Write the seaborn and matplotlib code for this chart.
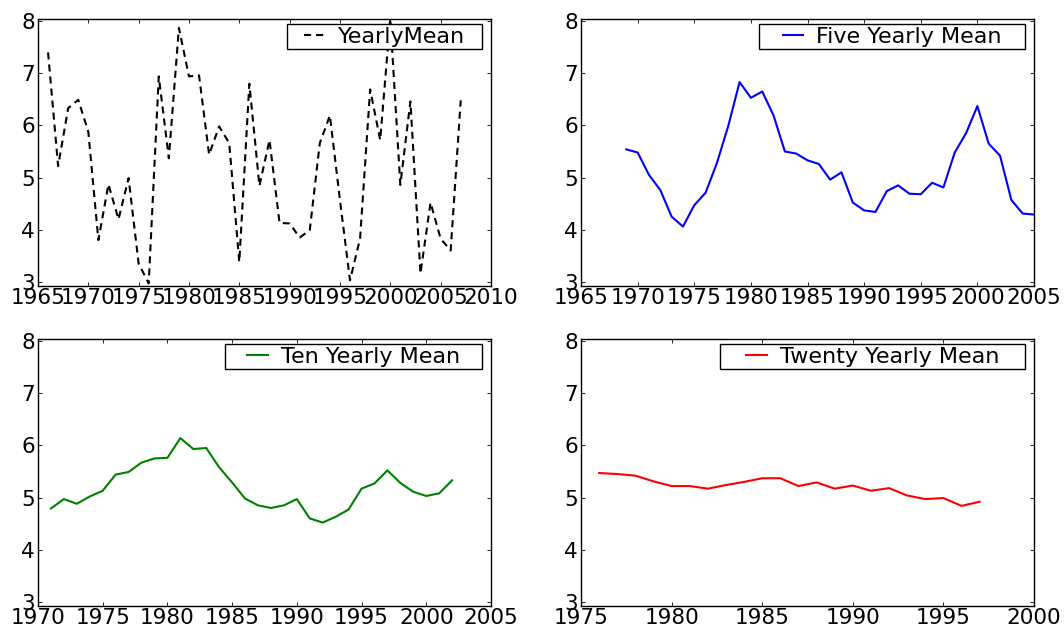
import matplotlib
matplotlib.use("Agg")
import matplotlib.pyplot as plt
from matplotlib.path import Path
from matplotlib.transforms import offset_copy
import pandas as pd
import seaborn as sns

# Yearly values and running means
yearly_years = list(range(1966, 2008))
yearly_mean = [7.40, 5.22, 6.33, 6.49, 5.88, 3.80, 4.87, 4.20, 4.99, 3.35,
               2.97, 6.94, 5.37, 7.87, 6.94, 6.96, 5.44, 5.98, 5.66, 3.38,
               6.80, 4.84, 5.72, 4.13, 4.12, 3.85, 3.99, 5.66, 6.19, 4.57,
               3.03, 3.83, 6.69, 5.72, 8.05, 4.86, 6.46, 3.16, 4.52, 3.83,
               3.60, 6.48]

five_years = list(range(1969, 2006))
five_mean = [5.54, 5.48, 5.05, 4.76, 4.25, 4.06, 4.47, 4.71, 5.28, 5.99,
             6.83, 6.53, 6.65, 6.19, 5.50, 5.46, 5.33, 5.26, 4.96, 5.10,
             4.52, 4.37, 4.34, 4.74, 4.85, 4.69, 4.68, 4.90, 4.81, 5.48,
             5.85, 6.37, 5.65, 5.42, 4.57, 4.31, 4.29]

ten_years = list(range(1971, 2003))
ten_mean = [4.79, 4.97, 4.88, 5.02, 5.13, 5.44, 5.49, 5.67, 5.75, 5.76,
            6.14, 5.93, 5.95, 5.58, 5.29, 4.98, 4.85, 4.80, 4.85, 4.97,
            4.60, 4.52, 4.63, 4.77, 5.17, 5.27, 5.52, 5.28, 5.11, 5.03,
            5.08, 5.33]

twenty_years = list(range(1976, 1998))
twenty_mean = [5.47, 5.45, 5.42, 5.31, 5.22, 5.22, 5.17, 5.24, 5.30, 5.37,
               5.37, 5.22, 5.29, 5.17, 5.23, 5.13, 5.18, 5.04, 4.97, 4.99,
               4.84, 4.92]

panels = [
    (yearly_years, yearly_mean, "YearlyMean", "#000000", (0, (3.4, 2.4)), (1965, 2010)),
    (five_years, five_mean, "Five Yearly Mean", "#0000ff", "-", (1965, 2005)),
    (ten_years, ten_mean, "Ten Yearly Mean", "#008000", "-", (1970, 2005)),
    (twenty_years, twenty_mean, "Twenty Yearly Mean", "#ff0000", "-", (1975, 2000)),
]

# horizontal frame padding of each legend, in font-size units
legend_padx = [0.66, 0.95, 0.88, 1.06]

TICK_FS = 15.5
LEG_FS = 16

plt.rcParams.update({
    "font.family": ["DejaVu Sans"],
    "font.size": TICK_FS,
    "axes.linewidth": 1.0,
    "axes.edgecolor": "black",
    "xtick.direction": "in",
    "ytick.direction": "in",
    "xtick.top": True,
    "ytick.right": True,
    "xtick.major.size": 3,
    "ytick.major.size": 3,
    "xtick.major.width": 0.6,
    "ytick.major.width": 0.6,
    "xtick.major.pad": 1.5,
    "ytick.major.pad": 2.2,
    "xtick.labelsize": TICK_FS,
    "ytick.labelsize": TICK_FS,
})


class WideSquare:
    """Square legend frame with extra horizontal padding only."""

    def __init__(self, padx):
        self.padx = padx

    def __call__(self, x0, y0, width, height, mutation_size):
        px = self.padx * mutation_size
        xa, xb = x0 - px, x0 + width + px
        ya, yb = y0, y0 + height
        return Path([(xa, ya), (xb, ya), (xb, yb), (xa, yb), (xa, ya)], closed=True)


fig = plt.figure(figsize=(10.64, 6.30), dpi=100)
fig.subplots_adjust(left=0.0357, right=0.9718, top=0.9698, bottom=0.0381,
                    wspace=0.199, hspace=0.1985)

for i, (years, vals, label, color, ls, xlim) in enumerate(panels):
    ax = fig.add_subplot(2, 2, i + 1)
    df = pd.DataFrame({"year": years, "value": vals})
    sns.lineplot(data=df, x="year", y="value", ax=ax, color=color,
                 linewidth=1.5, linestyle=ls, label=label)
    ax.set_xlim(*xlim)
    ax.set_ylim(2.92, 8.04)
    ax.set_xticks(range(xlim[0], xlim[1] + 1, 5))
    ax.set_yticks(range(3, 9))
    ax.set_xlabel("")
    ax.set_ylabel("")
    ax.set_facecolor("white")
    for sp in ax.spines.values():
        sp.set_visible(True)
        sp.set_color("black")

    padx = legend_padx[i]
    anchor_tf = offset_copy(ax.transAxes, fig=fig, x=-padx * LEG_FS, y=0, units="points")
    leg = ax.legend(loc="upper right", bbox_to_anchor=(0.98, 0.981),
                    bbox_transform=anchor_tf, borderaxespad=0, borderpad=0.11,
                    handlelength=0.92, handletextpad=0.58, fontsize=LEG_FS,
                    fancybox=False, shadow=False, framealpha=1.0)
    frame = leg.get_frame()
    frame.set_edgecolor("black")
    frame.set_linewidth(1.0)
    frame.set_boxstyle(WideSquare(padx))

fig.savefig("out.png", dpi=100, facecolor="white")
